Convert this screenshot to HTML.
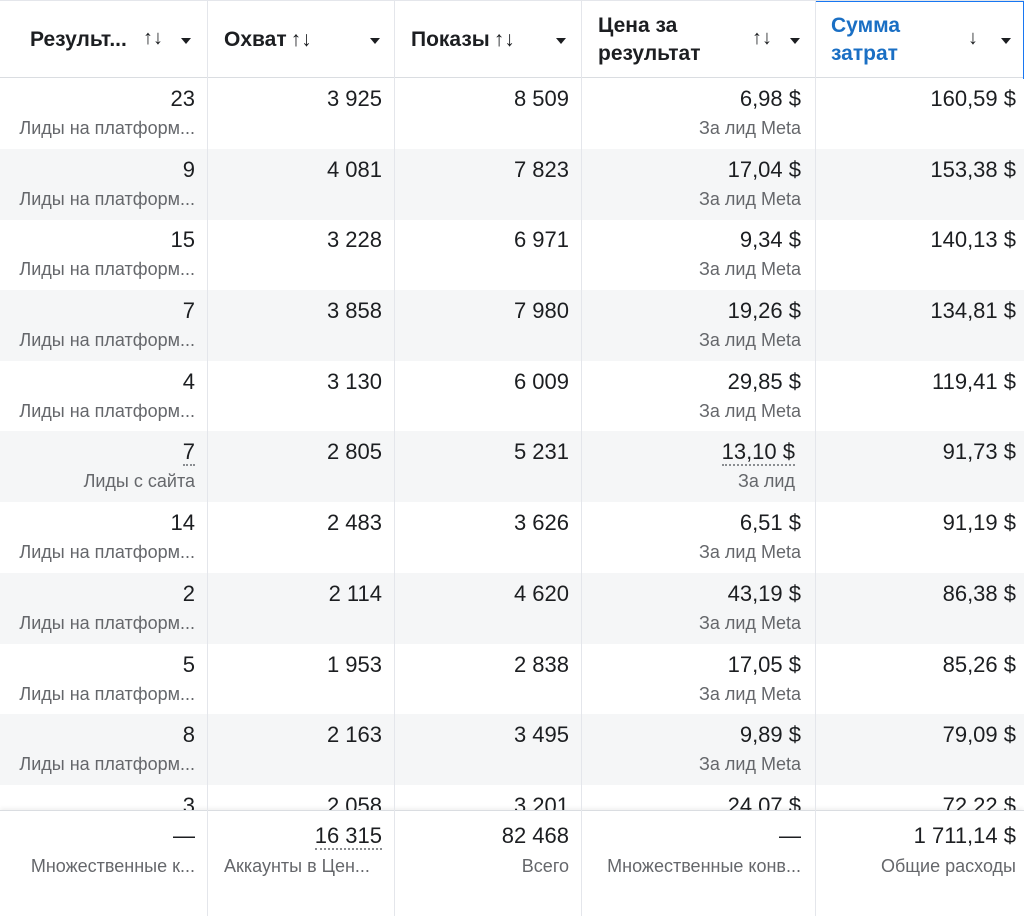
<!DOCTYPE html>
<html><head><meta charset="utf-8"><style>
*{margin:0;padding:0;box-sizing:border-box}
body{width:1024px;height:916px;overflow:hidden;background:#fff;font-family:"Liberation Sans","DejaVu Sans",sans-serif;color:#1c1e21;position:relative}
.vl{position:absolute;top:0;bottom:0;width:1px;background:#e4e6eb}
.hdr{position:absolute;top:0;left:0;width:1024px;height:78px;border-top:1px solid #e4e6eb;border-bottom:1px solid #dadde1;background:#fff}
.h{position:absolute;top:0;height:78px;font-weight:bold;font-size:21px;line-height:28px;display:flex;align-items:center}
.ar{position:absolute;font-size:20px;font-weight:normal;top:26px}
.dd{position:absolute;top:37px;width:0;height:0;border-left:5px solid transparent;border-right:5px solid transparent;border-top:6px solid #1c1e21}
.body{position:absolute;top:78px;left:0;width:1024px;height:732px;overflow:hidden}
.row{position:absolute;left:0;width:1024px;height:71px}
.g{background:#f5f6f7}
.c{position:absolute;top:0;height:71px;text-align:right}
.v{position:absolute;right:12px;top:8px;font-size:22px;white-space:nowrap}
.s{position:absolute;right:12px;top:40px;font-size:18px;color:#65676b;white-space:nowrap}
.foot{position:absolute;top:810px;left:0;width:1024px;height:106px;border-top:1px solid #dadde1;background:#fff;box-shadow:0 -2px 4px rgba(0,0,0,0.06)}
.u{border-bottom:2px dotted #8a8d91}
</style></head><body>
<div class="hdr">
 <div class="h" style="left:30px">Результ...</div><div class="ar" style="left:143px">↑↓</div><div class="dd" style="left:181px"></div>
 <div class="h" style="left:224px">Охват <span style="font-weight:normal;margin-left:4px">↑↓</span></div><div class="dd" style="left:370px"></div>
 <div class="h" style="left:411px">Показы <span style="font-weight:normal;margin-left:4px">↑↓</span></div><div class="dd" style="left:556px"></div>
 <div class="h" style="left:598px">Цена за<br>результат</div><div class="ar" style="left:752px">↑↓</div><div class="dd" style="left:790px"></div>
 <div style="position:absolute;left:815px;top:0;width:209px;height:78px;border:1px solid #1877f2;border-bottom:none"></div>
 <div class="h" style="left:831px;color:#1a6fc4">Сумма<br>затрат</div><div class="ar" style="left:968px">↓</div><div class="dd" style="left:1001px"></div>
</div>
<div class="body">
 <div class="row" style="top:0"><div class="c" style="left:0;width:207px"><div class="v">23</div><div class="s">Лиды на платформ...</div></div><div class="c" style="left:207px;width:187px"><div class="v">3 925</div></div><div class="c" style="left:394px;width:187px"><div class="v">8 509</div></div><div class="c" style="left:581px;width:234px"><div class="v" style="right:14px">6,98 $</div><div class="s" style="right:14px">За лид Meta</div></div><div class="c" style="left:815px;width:209px"><div class="v" style="right:8px">160,59 $</div></div></div>
 <div class="row g" style="top:71px"><div class="c" style="left:0;width:207px"><div class="v">9</div><div class="s">Лиды на платформ...</div></div><div class="c" style="left:207px;width:187px"><div class="v">4 081</div></div><div class="c" style="left:394px;width:187px"><div class="v">7 823</div></div><div class="c" style="left:581px;width:234px"><div class="v" style="right:14px">17,04 $</div><div class="s" style="right:14px">За лид Meta</div></div><div class="c" style="left:815px;width:209px"><div class="v" style="right:8px">153,38 $</div></div></div>
 <div class="row" style="top:141px"><div class="c" style="left:0;width:207px"><div class="v">15</div><div class="s">Лиды на платформ...</div></div><div class="c" style="left:207px;width:187px"><div class="v">3 228</div></div><div class="c" style="left:394px;width:187px"><div class="v">6 971</div></div><div class="c" style="left:581px;width:234px"><div class="v" style="right:14px">9,34 $</div><div class="s" style="right:14px">За лид Meta</div></div><div class="c" style="left:815px;width:209px"><div class="v" style="right:8px">140,13 $</div></div></div>
 <div class="row g" style="top:212px"><div class="c" style="left:0;width:207px"><div class="v">7</div><div class="s">Лиды на платформ...</div></div><div class="c" style="left:207px;width:187px"><div class="v">3 858</div></div><div class="c" style="left:394px;width:187px"><div class="v">7 980</div></div><div class="c" style="left:581px;width:234px"><div class="v" style="right:14px">19,26 $</div><div class="s" style="right:14px">За лид Meta</div></div><div class="c" style="left:815px;width:209px"><div class="v" style="right:8px">134,81 $</div></div></div>
 <div class="row" style="top:283px"><div class="c" style="left:0;width:207px"><div class="v">4</div><div class="s">Лиды на платформ...</div></div><div class="c" style="left:207px;width:187px"><div class="v">3 130</div></div><div class="c" style="left:394px;width:187px"><div class="v">6 009</div></div><div class="c" style="left:581px;width:234px"><div class="v" style="right:14px">29,85 $</div><div class="s" style="right:14px">За лид Meta</div></div><div class="c" style="left:815px;width:209px"><div class="v" style="right:8px">119,41 $</div></div></div>
 <div class="row g" style="top:353px"><div class="c" style="left:0;width:207px"><div class="v"><span class="u">7</span></div><div class="s">Лиды с сайта</div></div><div class="c" style="left:207px;width:187px"><div class="v">2 805</div></div><div class="c" style="left:394px;width:187px"><div class="v">5 231</div></div><div class="c" style="left:581px;width:234px"><div class="v" style="right:20px"><span class="u">13,10 $</span></div><div class="s" style="right:20px">За лид</div></div><div class="c" style="left:815px;width:209px"><div class="v" style="right:8px">91,73 $</div></div></div>
 <div class="row" style="top:424px"><div class="c" style="left:0;width:207px"><div class="v">14</div><div class="s">Лиды на платформ...</div></div><div class="c" style="left:207px;width:187px"><div class="v">2 483</div></div><div class="c" style="left:394px;width:187px"><div class="v">3 626</div></div><div class="c" style="left:581px;width:234px"><div class="v" style="right:14px">6,51 $</div><div class="s" style="right:14px">За лид Meta</div></div><div class="c" style="left:815px;width:209px"><div class="v" style="right:8px">91,19 $</div></div></div>
 <div class="row g" style="top:495px"><div class="c" style="left:0;width:207px"><div class="v">2</div><div class="s">Лиды на платформ...</div></div><div class="c" style="left:207px;width:187px"><div class="v">2 114</div></div><div class="c" style="left:394px;width:187px"><div class="v">4 620</div></div><div class="c" style="left:581px;width:234px"><div class="v" style="right:14px">43,19 $</div><div class="s" style="right:14px">За лид Meta</div></div><div class="c" style="left:815px;width:209px"><div class="v" style="right:8px">86,38 $</div></div></div>
 <div class="row" style="top:566px"><div class="c" style="left:0;width:207px"><div class="v">5</div><div class="s">Лиды на платформ...</div></div><div class="c" style="left:207px;width:187px"><div class="v">1 953</div></div><div class="c" style="left:394px;width:187px"><div class="v">2 838</div></div><div class="c" style="left:581px;width:234px"><div class="v" style="right:14px">17,05 $</div><div class="s" style="right:14px">За лид Meta</div></div><div class="c" style="left:815px;width:209px"><div class="v" style="right:8px">85,26 $</div></div></div>
 <div class="row g" style="top:636px"><div class="c" style="left:0;width:207px"><div class="v">8</div><div class="s">Лиды на платформ...</div></div><div class="c" style="left:207px;width:187px"><div class="v">2 163</div></div><div class="c" style="left:394px;width:187px"><div class="v">3 495</div></div><div class="c" style="left:581px;width:234px"><div class="v" style="right:14px">9,89 $</div><div class="s" style="right:14px">За лид Meta</div></div><div class="c" style="left:815px;width:209px"><div class="v" style="right:8px">79,09 $</div></div></div>
 <div class="row" style="top:707px"><div class="c" style="left:0;width:207px"><div class="v">3</div></div><div class="c" style="left:207px;width:187px"><div class="v">2 058</div></div><div class="c" style="left:394px;width:187px"><div class="v">3 201</div></div><div class="c" style="left:581px;width:234px"><div class="v" style="right:14px">24,07 $</div></div><div class="c" style="left:815px;width:209px"><div class="v" style="right:8px">72,22 $</div></div></div>
</div>
<div class="foot">
 <div class="c" style="left:0;width:207px"><div class="v" style="top:12px">—</div><div class="s" style="top:45px">Множественные к...</div></div>
 <div class="c" style="left:207px;width:187px"><div class="v" style="top:12px"><span class="u">16 315</span></div><div class="s" style="top:45px;right:auto;left:17px">Аккаунты в Цен...</div></div>
 <div class="c" style="left:394px;width:187px"><div class="v" style="top:12px">82 468</div><div class="s" style="top:45px">Всего</div></div>
 <div class="c" style="left:581px;width:234px"><div class="v" style="top:12px;right:14px">—</div><div class="s" style="top:45px;right:14px">Множественные конв...</div></div>
 <div class="c" style="left:815px;width:209px"><div class="v" style="top:12px;right:8px">1 711,14 $</div><div class="s" style="top:45px;right:8px">Общие расходы</div></div>
</div>
<div class="vl" style="left:207px"></div><div class="vl" style="left:394px"></div><div class="vl" style="left:581px"></div><div class="vl" style="left:815px"></div>
</body></html>
